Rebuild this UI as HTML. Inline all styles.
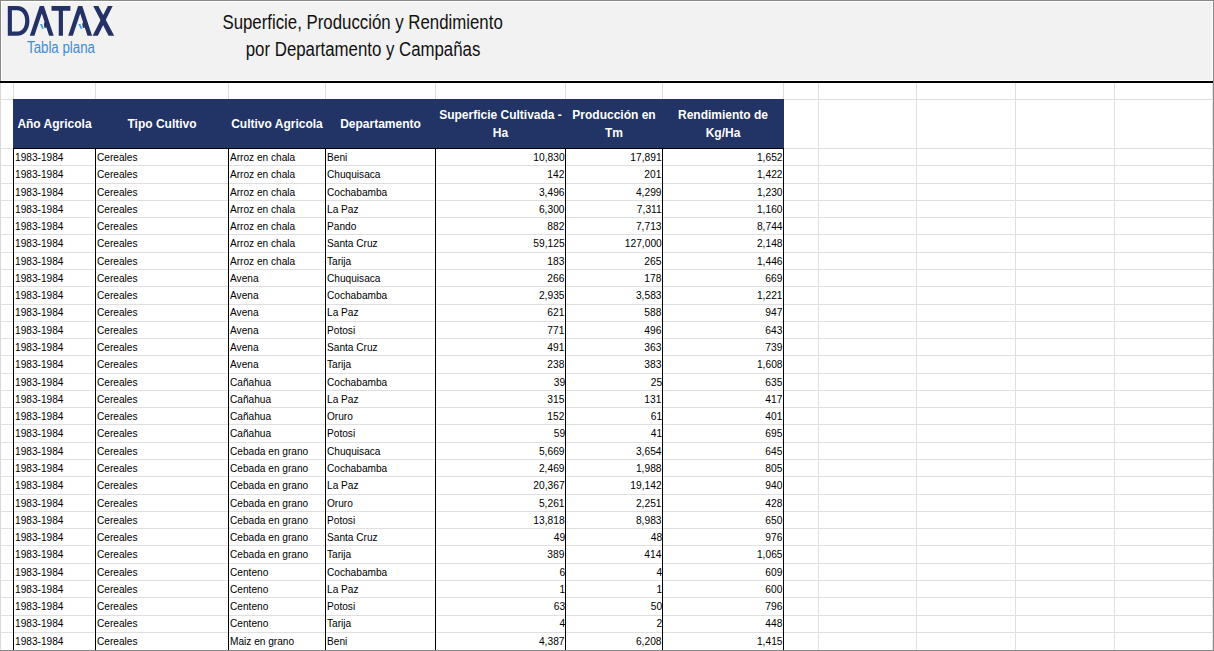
<!DOCTYPE html>
<html><head><meta charset="utf-8"><style>
*{margin:0;padding:0;box-sizing:border-box}
html,body{width:1214px;height:651px;overflow:hidden;background:#fff}
body{position:relative;font-family:"Liberation Sans",sans-serif}
.v{position:absolute;width:1px;background:#dfdfdf}
.h{position:absolute;left:1px;width:1211px;height:1px;background:#dfdfdf}
.b{position:absolute;background:#000}
.ht{position:absolute;text-align:center;color:#fff;font-weight:bold;font-size:12px;line-height:12px;white-space:nowrap}
.ht span{display:inline-block}
.dl,.dr{position:absolute;font-size:11px;line-height:11px;white-space:nowrap;color:#000}
.dl span{display:inline-block;transform:scaleX(0.92);transform-origin:0 0}
.dr span{display:inline-block;transform:scaleX(0.93);transform-origin:100% 0}
.ab{position:absolute}
.ttl{position:absolute;left:-37px;width:800px;text-align:center;font-size:19.5px;line-height:19.5px;color:#111;white-space:nowrap}
.ttl span{display:inline-block;transform:scaleX(0.862)}
#tp{position:absolute;left:27px;top:40px;font-size:16px;line-height:16px;color:#3d8bd8;white-space:nowrap}
#tp span{display:inline-block;transform:scaleX(0.83);transform-origin:0 0;letter-spacing:0px}
</style></head><body>
<div class="ab" style="left:2px;top:2px;width:1210px;height:78px;background:#f2f2f2"></div>
<div class="ab" style="left:0;top:0;width:1214px;height:1px;background:#888888"></div>
<div class="ab" style="left:0;top:0;width:1px;height:81px;background:#888888"></div>
<svg style="position:absolute;left:0;top:0" width="130" height="40" viewBox="0 0 130 40">
<path fill="#233166" fill-rule="evenodd" d="M7.8 6.1H17C24.5 6.1 29.4 12 29.4 20.9C29.4 29.8 24.5 35.7 17 35.7H7.8ZM11.9 10.3H17C22 10.3 25.2 14.5 25.2 20.9C25.2 27.3 22 31.5 17 31.5H11.9Z"/>
<path fill="#233166" d="M29.8 35.7L39.7 6.1H43.9L53.7 35.7H49.1L41.8 13.6L34.4 35.7Z"/>
<path fill="#233166" d="M51.5 6.1H70.4V10.75H62.95V35.7H58.75V10.75H51.5Z"/>
<path fill="#233166" d="M68.2 35.7L78.1 6.1H82.3L92.1 35.7H87.5L80.2 13.6L72.8 35.7Z"/>
<path fill="#233166" d="M93.2 6.1H98.4L114.2 35.7H108.6Z"/>
<path fill="#233166" d="M107.8 6.1H112.7L97.8 35.7H92.6Z"/>
<path fill="#233166" d="M44.9 21.5L43.9 24.0L44.4 27.8L46.6 27.8L45.6 21.5ZM83.3 21.5L82.3 24.0L82.8 27.8L85.0 27.8L84.0 21.5Z"/>
<path fill="#38a2ea" d="M40.0 23.9L42.0 23.9L43.9 28.7L42.1 28.7ZM78.4 23.9L80.4 23.9L82.3 28.7L80.5 28.7Z"/>
</svg>
<div class="ttl" style="top:13px"><span>Superficie, Producción y Rendimiento</span></div>
<div class="ttl" style="top:40px"><span>por Departamento y Campañas</span></div>
<div id="tp"><span>Tabla plana</span></div>
<div class="ab" style="left:0;top:81px;width:1213px;height:2px;background:#000"></div>
<div class="v" style="left:13px;top:83px;height:567px"></div>
<div class="v" style="left:95px;top:83px;height:567px"></div>
<div class="v" style="left:228px;top:83px;height:567px"></div>
<div class="v" style="left:325px;top:83px;height:567px"></div>
<div class="v" style="left:435px;top:83px;height:567px"></div>
<div class="v" style="left:565px;top:83px;height:567px"></div>
<div class="v" style="left:662px;top:83px;height:567px"></div>
<div class="v" style="left:783px;top:83px;height:567px"></div>
<div class="v" style="left:818px;top:83px;height:567px"></div>
<div class="v" style="left:916px;top:83px;height:567px"></div>
<div class="v" style="left:1015px;top:83px;height:567px"></div>
<div class="v" style="left:1114px;top:83px;height:567px"></div>
<div class="h" style="top:99px"></div>
<div class="h" style="top:148px"></div>
<div class="h" style="top:165px"></div>
<div class="h" style="top:183px"></div>
<div class="h" style="top:200px"></div>
<div class="h" style="top:217px"></div>
<div class="h" style="top:234px"></div>
<div class="h" style="top:252px"></div>
<div class="h" style="top:269px"></div>
<div class="h" style="top:286px"></div>
<div class="h" style="top:304px"></div>
<div class="h" style="top:321px"></div>
<div class="h" style="top:338px"></div>
<div class="h" style="top:355px"></div>
<div class="h" style="top:373px"></div>
<div class="h" style="top:390px"></div>
<div class="h" style="top:407px"></div>
<div class="h" style="top:424px"></div>
<div class="h" style="top:442px"></div>
<div class="h" style="top:459px"></div>
<div class="h" style="top:476px"></div>
<div class="h" style="top:494px"></div>
<div class="h" style="top:511px"></div>
<div class="h" style="top:528px"></div>
<div class="h" style="top:545px"></div>
<div class="h" style="top:563px"></div>
<div class="h" style="top:580px"></div>
<div class="h" style="top:597px"></div>
<div class="h" style="top:615px"></div>
<div class="h" style="top:632px"></div>
<div style="position:absolute;left:13px;top:99px;width:771px;height:49px;background:#223366"></div>
<div class="b" style="left:13px;top:148px;width:771px;height:1px"></div>
<div class="b" style="left:13px;top:148px;width:1px;height:502px"></div>
<div class="b" style="left:95px;top:148px;width:1px;height:502px"></div>
<div class="b" style="left:228px;top:148px;width:1px;height:502px"></div>
<div class="b" style="left:325px;top:148px;width:1px;height:502px"></div>
<div class="b" style="left:435px;top:148px;width:1px;height:502px"></div>
<div class="b" style="left:565px;top:148px;width:1px;height:502px"></div>
<div class="b" style="left:662px;top:148px;width:1px;height:502px"></div>
<div class="b" style="left:783px;top:148px;width:1px;height:502px"></div>
<div class="ht" style="left:14px;width:81px;top:118px"><span style="transform:scaleX(1.0)">Año Agricola</span></div>
<div class="ht" style="left:96px;width:132px;top:118px"><span style="transform:scaleX(1.0)">Tipo Cultivo</span></div>
<div class="ht" style="left:229px;width:96px;top:118px"><span style="transform:scaleX(1.0)">Cultivo Agricola</span></div>
<div class="ht" style="left:326px;width:109px;top:118px"><span style="transform:scaleX(1.0)">Departamento</span></div>
<div class="ht" style="left:436px;width:129px;top:109px"><span style="transform:scaleX(1.0)">Superficie Cultivada -</span></div>
<div class="ht" style="left:436px;width:129px;top:127px"><span style="transform:scaleX(1.0)">Ha</span></div>
<div class="ht" style="left:566px;width:96px;top:109px"><span style="transform:scaleX(1.0)">Producción en</span></div>
<div class="ht" style="left:566px;width:96px;top:127px"><span style="transform:scaleX(1.0)">Tm</span></div>
<div class="ht" style="left:663px;width:120px;top:109px"><span style="transform:scaleX(1.0)">Rendimiento de</span></div>
<div class="ht" style="left:663px;width:120px;top:127px"><span style="transform:scaleX(1.0)">Kg/Ha</span></div>
<div class="dl" style="left:15px;top:152px"><span>1983-1984</span></div>
<div class="dl" style="left:97px;top:152px"><span>Cereales</span></div>
<div class="dl" style="left:230px;top:152px"><span>Arroz en chala</span></div>
<div class="dl" style="left:327px;top:152px"><span>Beni</span></div>
<div class="dr" style="right:649.25px;top:152px"><span>10,830</span></div>
<div class="dr" style="right:552.25px;top:152px"><span>17,891</span></div>
<div class="dr" style="right:431.25px;top:152px"><span>1,652</span></div>
<div class="dl" style="left:15px;top:169px"><span>1983-1984</span></div>
<div class="dl" style="left:97px;top:169px"><span>Cereales</span></div>
<div class="dl" style="left:230px;top:169px"><span>Arroz en chala</span></div>
<div class="dl" style="left:327px;top:169px"><span>Chuquisaca</span></div>
<div class="dr" style="right:649.25px;top:169px"><span>142</span></div>
<div class="dr" style="right:552.25px;top:169px"><span>201</span></div>
<div class="dr" style="right:431.25px;top:169px"><span>1,422</span></div>
<div class="dl" style="left:15px;top:187px"><span>1983-1984</span></div>
<div class="dl" style="left:97px;top:187px"><span>Cereales</span></div>
<div class="dl" style="left:230px;top:187px"><span>Arroz en chala</span></div>
<div class="dl" style="left:327px;top:187px"><span>Cochabamba</span></div>
<div class="dr" style="right:649.25px;top:187px"><span>3,496</span></div>
<div class="dr" style="right:552.25px;top:187px"><span>4,299</span></div>
<div class="dr" style="right:431.25px;top:187px"><span>1,230</span></div>
<div class="dl" style="left:15px;top:204px"><span>1983-1984</span></div>
<div class="dl" style="left:97px;top:204px"><span>Cereales</span></div>
<div class="dl" style="left:230px;top:204px"><span>Arroz en chala</span></div>
<div class="dl" style="left:327px;top:204px"><span>La Paz</span></div>
<div class="dr" style="right:649.25px;top:204px"><span>6,300</span></div>
<div class="dr" style="right:552.25px;top:204px"><span>7,311</span></div>
<div class="dr" style="right:431.25px;top:204px"><span>1,160</span></div>
<div class="dl" style="left:15px;top:221px"><span>1983-1984</span></div>
<div class="dl" style="left:97px;top:221px"><span>Cereales</span></div>
<div class="dl" style="left:230px;top:221px"><span>Arroz en chala</span></div>
<div class="dl" style="left:327px;top:221px"><span>Pando</span></div>
<div class="dr" style="right:649.25px;top:221px"><span>882</span></div>
<div class="dr" style="right:552.25px;top:221px"><span>7,713</span></div>
<div class="dr" style="right:431.25px;top:221px"><span>8,744</span></div>
<div class="dl" style="left:15px;top:238px"><span>1983-1984</span></div>
<div class="dl" style="left:97px;top:238px"><span>Cereales</span></div>
<div class="dl" style="left:230px;top:238px"><span>Arroz en chala</span></div>
<div class="dl" style="left:327px;top:238px"><span>Santa Cruz</span></div>
<div class="dr" style="right:649.25px;top:238px"><span>59,125</span></div>
<div class="dr" style="right:552.25px;top:238px"><span>127,000</span></div>
<div class="dr" style="right:431.25px;top:238px"><span>2,148</span></div>
<div class="dl" style="left:15px;top:256px"><span>1983-1984</span></div>
<div class="dl" style="left:97px;top:256px"><span>Cereales</span></div>
<div class="dl" style="left:230px;top:256px"><span>Arroz en chala</span></div>
<div class="dl" style="left:327px;top:256px"><span>Tarija</span></div>
<div class="dr" style="right:649.25px;top:256px"><span>183</span></div>
<div class="dr" style="right:552.25px;top:256px"><span>265</span></div>
<div class="dr" style="right:431.25px;top:256px"><span>1,446</span></div>
<div class="dl" style="left:15px;top:273px"><span>1983-1984</span></div>
<div class="dl" style="left:97px;top:273px"><span>Cereales</span></div>
<div class="dl" style="left:230px;top:273px"><span>Avena</span></div>
<div class="dl" style="left:327px;top:273px"><span>Chuquisaca</span></div>
<div class="dr" style="right:649.25px;top:273px"><span>266</span></div>
<div class="dr" style="right:552.25px;top:273px"><span>178</span></div>
<div class="dr" style="right:431.25px;top:273px"><span>669</span></div>
<div class="dl" style="left:15px;top:290px"><span>1983-1984</span></div>
<div class="dl" style="left:97px;top:290px"><span>Cereales</span></div>
<div class="dl" style="left:230px;top:290px"><span>Avena</span></div>
<div class="dl" style="left:327px;top:290px"><span>Cochabamba</span></div>
<div class="dr" style="right:649.25px;top:290px"><span>2,935</span></div>
<div class="dr" style="right:552.25px;top:290px"><span>3,583</span></div>
<div class="dr" style="right:431.25px;top:290px"><span>1,221</span></div>
<div class="dl" style="left:15px;top:307px"><span>1983-1984</span></div>
<div class="dl" style="left:97px;top:307px"><span>Cereales</span></div>
<div class="dl" style="left:230px;top:307px"><span>Avena</span></div>
<div class="dl" style="left:327px;top:307px"><span>La Paz</span></div>
<div class="dr" style="right:649.25px;top:307px"><span>621</span></div>
<div class="dr" style="right:552.25px;top:307px"><span>588</span></div>
<div class="dr" style="right:431.25px;top:307px"><span>947</span></div>
<div class="dl" style="left:15px;top:325px"><span>1983-1984</span></div>
<div class="dl" style="left:97px;top:325px"><span>Cereales</span></div>
<div class="dl" style="left:230px;top:325px"><span>Avena</span></div>
<div class="dl" style="left:327px;top:325px"><span>Potosi</span></div>
<div class="dr" style="right:649.25px;top:325px"><span>771</span></div>
<div class="dr" style="right:552.25px;top:325px"><span>496</span></div>
<div class="dr" style="right:431.25px;top:325px"><span>643</span></div>
<div class="dl" style="left:15px;top:342px"><span>1983-1984</span></div>
<div class="dl" style="left:97px;top:342px"><span>Cereales</span></div>
<div class="dl" style="left:230px;top:342px"><span>Avena</span></div>
<div class="dl" style="left:327px;top:342px"><span>Santa Cruz</span></div>
<div class="dr" style="right:649.25px;top:342px"><span>491</span></div>
<div class="dr" style="right:552.25px;top:342px"><span>363</span></div>
<div class="dr" style="right:431.25px;top:342px"><span>739</span></div>
<div class="dl" style="left:15px;top:359px"><span>1983-1984</span></div>
<div class="dl" style="left:97px;top:359px"><span>Cereales</span></div>
<div class="dl" style="left:230px;top:359px"><span>Avena</span></div>
<div class="dl" style="left:327px;top:359px"><span>Tarija</span></div>
<div class="dr" style="right:649.25px;top:359px"><span>238</span></div>
<div class="dr" style="right:552.25px;top:359px"><span>383</span></div>
<div class="dr" style="right:431.25px;top:359px"><span>1,608</span></div>
<div class="dl" style="left:15px;top:377px"><span>1983-1984</span></div>
<div class="dl" style="left:97px;top:377px"><span>Cereales</span></div>
<div class="dl" style="left:230px;top:377px"><span>Cañahua</span></div>
<div class="dl" style="left:327px;top:377px"><span>Cochabamba</span></div>
<div class="dr" style="right:649.25px;top:377px"><span>39</span></div>
<div class="dr" style="right:552.25px;top:377px"><span>25</span></div>
<div class="dr" style="right:431.25px;top:377px"><span>635</span></div>
<div class="dl" style="left:15px;top:394px"><span>1983-1984</span></div>
<div class="dl" style="left:97px;top:394px"><span>Cereales</span></div>
<div class="dl" style="left:230px;top:394px"><span>Cañahua</span></div>
<div class="dl" style="left:327px;top:394px"><span>La Paz</span></div>
<div class="dr" style="right:649.25px;top:394px"><span>315</span></div>
<div class="dr" style="right:552.25px;top:394px"><span>131</span></div>
<div class="dr" style="right:431.25px;top:394px"><span>417</span></div>
<div class="dl" style="left:15px;top:411px"><span>1983-1984</span></div>
<div class="dl" style="left:97px;top:411px"><span>Cereales</span></div>
<div class="dl" style="left:230px;top:411px"><span>Cañahua</span></div>
<div class="dl" style="left:327px;top:411px"><span>Oruro</span></div>
<div class="dr" style="right:649.25px;top:411px"><span>152</span></div>
<div class="dr" style="right:552.25px;top:411px"><span>61</span></div>
<div class="dr" style="right:431.25px;top:411px"><span>401</span></div>
<div class="dl" style="left:15px;top:428px"><span>1983-1984</span></div>
<div class="dl" style="left:97px;top:428px"><span>Cereales</span></div>
<div class="dl" style="left:230px;top:428px"><span>Cañahua</span></div>
<div class="dl" style="left:327px;top:428px"><span>Potosi</span></div>
<div class="dr" style="right:649.25px;top:428px"><span>59</span></div>
<div class="dr" style="right:552.25px;top:428px"><span>41</span></div>
<div class="dr" style="right:431.25px;top:428px"><span>695</span></div>
<div class="dl" style="left:15px;top:446px"><span>1983-1984</span></div>
<div class="dl" style="left:97px;top:446px"><span>Cereales</span></div>
<div class="dl" style="left:230px;top:446px"><span>Cebada en grano</span></div>
<div class="dl" style="left:327px;top:446px"><span>Chuquisaca</span></div>
<div class="dr" style="right:649.25px;top:446px"><span>5,669</span></div>
<div class="dr" style="right:552.25px;top:446px"><span>3,654</span></div>
<div class="dr" style="right:431.25px;top:446px"><span>645</span></div>
<div class="dl" style="left:15px;top:463px"><span>1983-1984</span></div>
<div class="dl" style="left:97px;top:463px"><span>Cereales</span></div>
<div class="dl" style="left:230px;top:463px"><span>Cebada en grano</span></div>
<div class="dl" style="left:327px;top:463px"><span>Cochabamba</span></div>
<div class="dr" style="right:649.25px;top:463px"><span>2,469</span></div>
<div class="dr" style="right:552.25px;top:463px"><span>1,988</span></div>
<div class="dr" style="right:431.25px;top:463px"><span>805</span></div>
<div class="dl" style="left:15px;top:480px"><span>1983-1984</span></div>
<div class="dl" style="left:97px;top:480px"><span>Cereales</span></div>
<div class="dl" style="left:230px;top:480px"><span>Cebada en grano</span></div>
<div class="dl" style="left:327px;top:480px"><span>La Paz</span></div>
<div class="dr" style="right:649.25px;top:480px"><span>20,367</span></div>
<div class="dr" style="right:552.25px;top:480px"><span>19,142</span></div>
<div class="dr" style="right:431.25px;top:480px"><span>940</span></div>
<div class="dl" style="left:15px;top:498px"><span>1983-1984</span></div>
<div class="dl" style="left:97px;top:498px"><span>Cereales</span></div>
<div class="dl" style="left:230px;top:498px"><span>Cebada en grano</span></div>
<div class="dl" style="left:327px;top:498px"><span>Oruro</span></div>
<div class="dr" style="right:649.25px;top:498px"><span>5,261</span></div>
<div class="dr" style="right:552.25px;top:498px"><span>2,251</span></div>
<div class="dr" style="right:431.25px;top:498px"><span>428</span></div>
<div class="dl" style="left:15px;top:515px"><span>1983-1984</span></div>
<div class="dl" style="left:97px;top:515px"><span>Cereales</span></div>
<div class="dl" style="left:230px;top:515px"><span>Cebada en grano</span></div>
<div class="dl" style="left:327px;top:515px"><span>Potosi</span></div>
<div class="dr" style="right:649.25px;top:515px"><span>13,818</span></div>
<div class="dr" style="right:552.25px;top:515px"><span>8,983</span></div>
<div class="dr" style="right:431.25px;top:515px"><span>650</span></div>
<div class="dl" style="left:15px;top:532px"><span>1983-1984</span></div>
<div class="dl" style="left:97px;top:532px"><span>Cereales</span></div>
<div class="dl" style="left:230px;top:532px"><span>Cebada en grano</span></div>
<div class="dl" style="left:327px;top:532px"><span>Santa Cruz</span></div>
<div class="dr" style="right:649.25px;top:532px"><span>49</span></div>
<div class="dr" style="right:552.25px;top:532px"><span>48</span></div>
<div class="dr" style="right:431.25px;top:532px"><span>976</span></div>
<div class="dl" style="left:15px;top:549px"><span>1983-1984</span></div>
<div class="dl" style="left:97px;top:549px"><span>Cereales</span></div>
<div class="dl" style="left:230px;top:549px"><span>Cebada en grano</span></div>
<div class="dl" style="left:327px;top:549px"><span>Tarija</span></div>
<div class="dr" style="right:649.25px;top:549px"><span>389</span></div>
<div class="dr" style="right:552.25px;top:549px"><span>414</span></div>
<div class="dr" style="right:431.25px;top:549px"><span>1,065</span></div>
<div class="dl" style="left:15px;top:567px"><span>1983-1984</span></div>
<div class="dl" style="left:97px;top:567px"><span>Cereales</span></div>
<div class="dl" style="left:230px;top:567px"><span>Centeno</span></div>
<div class="dl" style="left:327px;top:567px"><span>Cochabamba</span></div>
<div class="dr" style="right:649.25px;top:567px"><span>6</span></div>
<div class="dr" style="right:552.25px;top:567px"><span>4</span></div>
<div class="dr" style="right:431.25px;top:567px"><span>609</span></div>
<div class="dl" style="left:15px;top:584px"><span>1983-1984</span></div>
<div class="dl" style="left:97px;top:584px"><span>Cereales</span></div>
<div class="dl" style="left:230px;top:584px"><span>Centeno</span></div>
<div class="dl" style="left:327px;top:584px"><span>La Paz</span></div>
<div class="dr" style="right:649.25px;top:584px"><span>1</span></div>
<div class="dr" style="right:552.25px;top:584px"><span>1</span></div>
<div class="dr" style="right:431.25px;top:584px"><span>600</span></div>
<div class="dl" style="left:15px;top:601px"><span>1983-1984</span></div>
<div class="dl" style="left:97px;top:601px"><span>Cereales</span></div>
<div class="dl" style="left:230px;top:601px"><span>Centeno</span></div>
<div class="dl" style="left:327px;top:601px"><span>Potosi</span></div>
<div class="dr" style="right:649.25px;top:601px"><span>63</span></div>
<div class="dr" style="right:552.25px;top:601px"><span>50</span></div>
<div class="dr" style="right:431.25px;top:601px"><span>796</span></div>
<div class="dl" style="left:15px;top:618px"><span>1983-1984</span></div>
<div class="dl" style="left:97px;top:618px"><span>Cereales</span></div>
<div class="dl" style="left:230px;top:618px"><span>Centeno</span></div>
<div class="dl" style="left:327px;top:618px"><span>Tarija</span></div>
<div class="dr" style="right:649.25px;top:618px"><span>4</span></div>
<div class="dr" style="right:552.25px;top:618px"><span>2</span></div>
<div class="dr" style="right:431.25px;top:618px"><span>448</span></div>
<div class="dl" style="left:15px;top:636px"><span>1983-1984</span></div>
<div class="dl" style="left:97px;top:636px"><span>Cereales</span></div>
<div class="dl" style="left:230px;top:636px"><span>Maiz en grano</span></div>
<div class="dl" style="left:327px;top:636px"><span>Beni</span></div>
<div class="dr" style="right:649.25px;top:636px"><span>4,387</span></div>
<div class="dr" style="right:552.25px;top:636px"><span>6,208</span></div>
<div class="dr" style="right:431.25px;top:636px"><span>1,415</span></div>
<div class="ab" style="left:0;top:83px;width:1px;height:567px;background:#dadada"></div>
<div class="ab" style="left:1212px;top:83px;width:1px;height:567px;background:#e6e6e6"></div>
<div class="ab" style="left:1213px;top:0;width:1px;height:651px;background:#888888"></div>
<div class="ab" style="left:0;top:650px;width:1214px;height:1px;background:#888888"></div>
</body></html>
